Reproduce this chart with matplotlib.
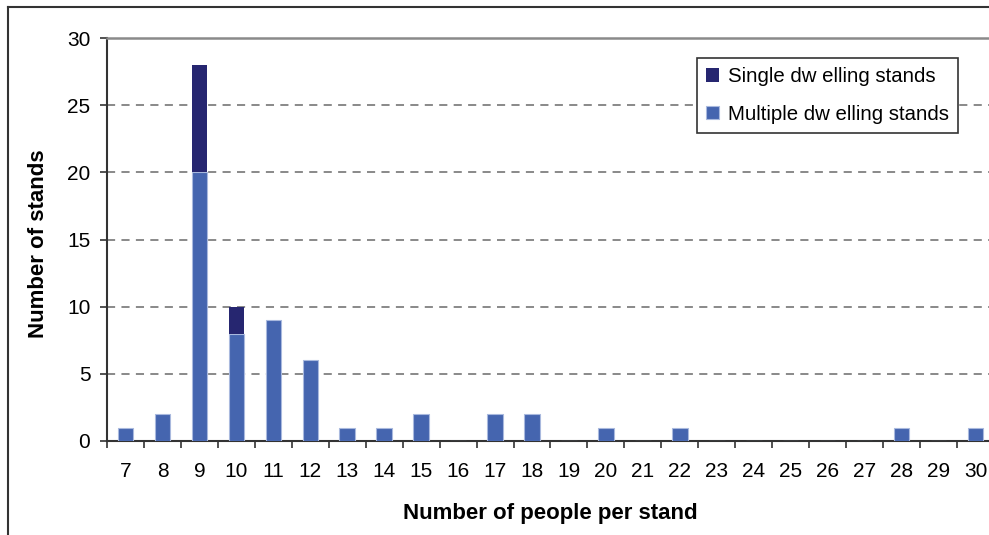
import matplotlib
matplotlib.use("Agg")
import matplotlib.pyplot as plt
from matplotlib.lines import Line2D

plt.rcParams['font.family'] = ['Liberation Sans', 'DejaVu Sans']

# people per stand and stand counts
people = [str(n) for n in range(7, 31)]
multiple = [1, 2, 20, 8, 9, 6, 1, 1, 2, 0, 2, 2, 0, 1, 0, 1, 0, 0, 0, 0, 0, 1, 0, 1]
single = [0, 0, 8, 2, 0, 0, 0, 0, 0, 0, 0, 0, 0, 0, 0, 0, 0, 0, 0, 0, 0, 0, 0, 0]

W, H = 989, 535
fig = plt.figure(figsize=(W / 100, H / 100), dpi=100)

# plot area runs slightly past the right edge of the figure
left, right, top, bottom = 107, 994, 38, 441
ax = fig.add_axes([left / W, 1 - bottom / H, (right - left) / W, (bottom - top) / H])

x = list(range(len(people)))
c_multi = '#4565AF'
c_single = '#262670'
ax.bar(x, multiple, width=0.42, color=c_multi, edgecolor='#A9B9DE', linewidth=0.8,
       label='Multiple dw elling stands', zorder=3)
ax.bar(x, single, width=0.42, bottom=multiple, color=c_single, linewidth=0,
       label='Single dw elling stands', zorder=3)

ax.set_xlim(-0.5, len(people) - 0.5)
ax.set_ylim(0, 30)
ax.set_yticks(range(0, 31, 5))
ax.set_xticks(x)
ax.set_xticklabels(people)
ax.set_xticks([i - 0.5 for i in range(len(people) + 1)], minor=True)

ax.tick_params(axis='x', which='major', length=0, pad=15, labelsize=15)
ax.tick_params(axis='x', which='minor', length=5, width=1.2, color='#333333', direction='out')
ax.tick_params(axis='y', length=5, width=1.2, color='#333333', pad=7, labelsize=15)

ax.yaxis.grid(True, linestyle=(0, (4.5, 3.5)), color='#808080', linewidth=1.3, zorder=0)
ax.set_axisbelow(True)

for side in ('left', 'bottom'):
    ax.spines[side].set_color('#333333')
    ax.spines[side].set_linewidth(1.5)
ax.spines['top'].set_color('#8a8a8a')
ax.spines['top'].set_linewidth(1.8)
ax.spines['right'].set_visible(False)

handles, labels = ax.get_legend_handles_labels()
leg = ax.legend(handles[::-1], labels[::-1], loc='upper left',
                bbox_to_anchor=(697 / W, 1 - 58 / H), bbox_transform=fig.transFigure,
                borderaxespad=0, fontsize=14.7, frameon=True, fancybox=False,
                edgecolor='#333333', framealpha=1, handlelength=0.65, handleheight=0.65,
                handletextpad=0.4, labelspacing=0.9, borderpad=0.45)
leg.get_frame().set_linewidth(1.2)

fig.text(39 / W, 1 - 244 / H, 'Number of stands', rotation=90, ha='center', va='center',
         fontsize=16, fontweight='bold')
fig.text(550 / W, 1 - 513 / H, 'Number of people per stand', ha='center', va='center',
         fontsize=16, fontweight='bold')

# outer chart frame, cut off at the right and bottom
fig.add_artist(Line2D([8 / W, 8 / W], [0, 1 - 7 / H], color='#333333', linewidth=1.5))
fig.add_artist(Line2D([8 / W, 1], [1 - 7 / H, 1 - 7 / H], color='#333333', linewidth=1.5))

fig.savefig('out.png', dpi=100)
